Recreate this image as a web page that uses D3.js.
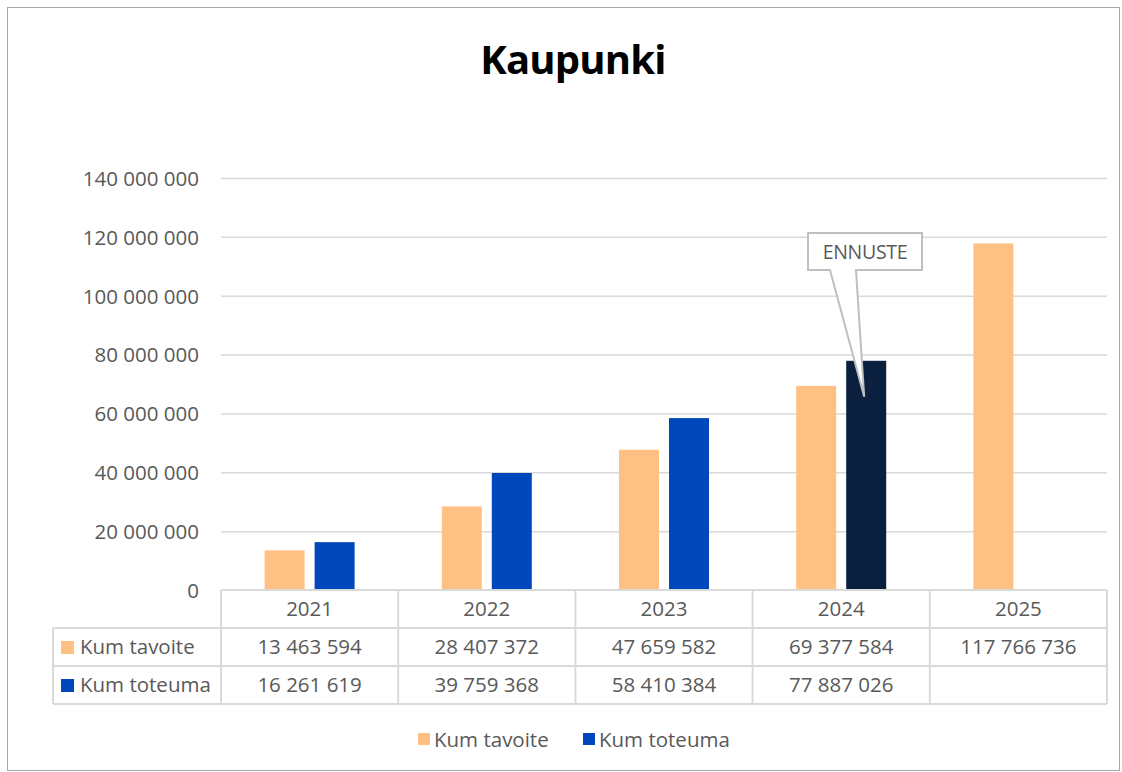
<!DOCTYPE html>
<html>
<head>
<meta charset="utf-8">
<script src="https://cdn.jsdelivr.net/npm/d3@7"></script>
<style>
  body { margin: 0; background: #fff; }
  svg text { font-family: "Open Sans", Roboto, sans-serif; }
</style>
</head>
<body>
<svg id="chart"></svg>
<script>
const years = ["2021", "2022", "2023", "2024", "2025"];
const kumTavoite = [13463594, 28407372, 47659582, 69377584, 117766736];
const kumToteuma = [16261619, 39759368, 58410384, 77887026, null];
const forecastYear = "2024";
const yTicks = [0, 20000000, 40000000, 60000000, 80000000, 100000000, 120000000, 140000000];
const seriesNames = ["Kum tavoite", "Kum toteuma"];
const seriesColors = ["#FFC083", "#0047BB"];
const forecastColor = "#0B1F3F";

const width = 1122, height = 772;
const plotLeft = 221, plotRight = 1107, plotTop = 178, plotBottom = 590;
const rowH = 38;
const textColor = "#595959";
const gridColor = "#D9D9D9";
const fs = 20.5;

const fmt = v => v == null ? "" : d3.format(",")(v).replace(/,/g, " ");

const svg = d3.select("#chart").attr("width", width).attr("height", height);

// outer frame
svg.append("rect").attr("x", 7.5).attr("y", 7.5).attr("width", 1112).attr("height", 763)
  .attr("fill", "#fff").attr("stroke", "#A6A6A6").attr("stroke-width", 1);

svg.append("text").attr("x", 573).attr("y", 74).attr("text-anchor", "middle")
  .attr("font-size", 40).attr("font-weight", "bold").attr("fill", "#000")
  .attr("letter-spacing", -0.8)
  .text("Kaupunki");

const x = d3.scaleBand().domain(years).range([plotLeft, plotRight]);
const y = d3.scaleLinear().domain([0, 140000000]).range([plotBottom, plotTop]);

// gridlines + labels
const yAxis = svg.append("g")
  .call(d3.axisLeft(y).tickValues(yTicks).tickSize(-(plotRight - plotLeft)).tickFormat(fmt))
  .attr("transform", `translate(${plotLeft},0)`);
yAxis.select(".domain").remove();
yAxis.selectAll(".tick line").attr("stroke", gridColor).attr("stroke-width", 1.5);
yAxis.selectAll(".tick text").attr("x", -22).attr("dy", "0.36em").attr("fill", textColor).attr("font-size", fs);
yAxis.selectAll(".tick").filter(d => d === 0).select("line").remove();

// bars
const barW = 40, gap = 10;
const bars = svg.append("g");
years.forEach((yr, i) => {
  const cx = x(yr) + x.bandwidth() / 2;
  [kumTavoite[i], kumToteuma[i]].forEach((v, s) => {
    if (v == null) return;
    const bx = s === 0 ? cx - gap / 2 - barW : cx + gap / 2;
    bars.append("rect").attr("x", bx).attr("y", y(v)).attr("width", barW)
      .attr("height", y(0) - y(v))
      .attr("fill", s === 1 && yr === forecastYear ? forecastColor : seriesColors[s]);
  });
});

// data table
const table = svg.append("g");
const tLeft = 53;
const lineAttrs = sel => sel.attr("stroke", gridColor).attr("stroke-width", 2);
table.append("line").attr("x1", plotLeft).attr("x2", plotRight).attr("y1", plotBottom).attr("y2", plotBottom).call(lineAttrs);
[1, 2, 3].forEach(r => {
  table.append("line").attr("x1", tLeft).attr("x2", plotRight)
    .attr("y1", plotBottom + r * rowH).attr("y2", plotBottom + r * rowH).call(lineAttrs);
});
years.concat(["end"]).forEach(yr => {
  const vx = yr === "end" ? plotRight : x(yr);
  table.append("line").attr("x1", vx).attr("x2", vx).attr("y1", plotBottom).attr("y2", plotBottom + 3 * rowH).call(lineAttrs);
});
table.append("line").attr("x1", tLeft).attr("x2", tLeft).attr("y1", plotBottom + rowH).attr("y2", plotBottom + 3 * rowH).call(lineAttrs);

const cellText = (tx, ty, s) => table.append("text").attr("x", tx).attr("y", ty)
  .attr("text-anchor", "middle").attr("fill", textColor).attr("font-size", fs).text(s);

years.forEach((yr, i) => {
  const cx = x(yr) + x.bandwidth() / 2;
  cellText(cx, plotBottom + rowH / 2 + 7, yr);
  cellText(cx, plotBottom + rowH * 1.5 + 7, fmt(kumTavoite[i]));
  cellText(cx, plotBottom + rowH * 2.5 + 7, fmt(kumToteuma[i]));
});
seriesNames.forEach((n, s) => {
  const ry = plotBottom + rowH * (s + 1.5);
  table.append("rect").attr("x", 61).attr("y", ry - 6).attr("width", 13).attr("height", 13).attr("fill", seriesColors[s]);
  table.append("text").attr("x", 80).attr("y", ry + 7).attr("fill", textColor).attr("font-size", fs).text(n);
});

// forecast callout
const fi = years.indexOf(forecastYear);
const tipX = x(forecastYear) + x.bandwidth() / 2 + gap / 2 + barW / 2 - 2;
const tipY = y(kumToteuma[fi]) + 36;
const box = { x: 808, y: 233, w: 114, h: 37 };
const callout = svg.append("g");
callout.append("path")
  .attr("d", `M${box.x},${box.y} H${box.x + box.w} V${box.y + box.h} H${box.x + 48} L${tipX},${tipY} L${box.x + 22},${box.y + box.h} H${box.x} Z`)
  .attr("fill", "#fff").attr("stroke", "#BFBFBF").attr("stroke-width", 2);
callout.append("text").attr("x", box.x + box.w / 2).attr("y", box.y + 26).attr("text-anchor", "middle")
  .attr("fill", textColor).attr("font-size", 19.5).attr("letter-spacing", -0.3).text("ENNUSTE");

// legend
const legend = svg.append("g");
const legendX = [418, 583];
seriesNames.forEach((n, s) => {
  legend.append("rect").attr("x", legendX[s]).attr("y", 733).attr("width", 12).attr("height", 12).attr("fill", seriesColors[s]);
  legend.append("text").attr("x", legendX[s] + 16).attr("y", 747).attr("fill", textColor).attr("font-size", fs).text(n);
});
</script>
</body>
</html>
